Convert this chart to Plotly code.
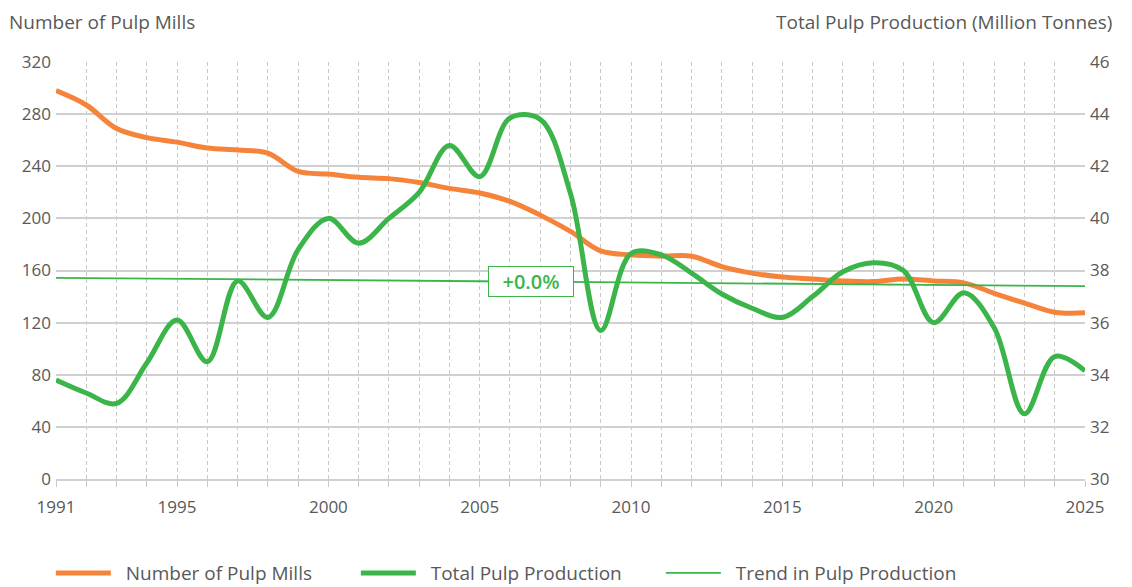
import plotly.graph_objects as go

years = list(range(1991, 2026))
pulp_mills = [298, 287, 269, 262, 258.5, 254, 252.5, 250, 236, 234, 231.5, 230.5, 227.5, 223,
              219.5, 213, 202.5, 190, 175, 172, 171, 171, 163, 158, 155, 153.5, 152, 151.5,
              153.5, 152, 150.5, 142.5, 135, 128, 127.5]
pulp_production = [33.8, 33.3, 32.9, 34.45, 36.1, 34.5, 37.6, 36.2, 38.8, 40.0, 39.05, 40.0, 41.0,
                   42.8, 41.6, 43.85, 43.8, 40.95, 35.7, 38.65, 38.6, 37.9, 37.1, 36.55, 36.2,
                   37.0, 37.95, 38.3, 38.0, 36.0, 37.15, 35.8, 32.5, 34.7, 34.15]
trend_years = [1991, 2025]
trend_values = [37.72, 37.4]
trend_label = "+0.0%"
label_years = [1991, 1995, 2000, 2005, 2010, 2015, 2020, 2025]

ORANGE = "#F5843A"
GREEN = "#3BB54A"
TEXT = "#595959"
FONT = "Open Sans"
PAD = "\u00a0\u00a0"

fig = go.Figure()
fig.add_trace(go.Scatter(x=years, y=pulp_mills, name=PAD + "Number of Pulp Mills", mode="lines",
                         line=dict(color=ORANGE, width=5, shape="spline", smoothing=1.0)))
fig.add_trace(go.Scatter(x=years, y=pulp_production, name=PAD + "Total Pulp Production", mode="lines",
                         yaxis="y2",
                         line=dict(color=GREEN, width=5, shape="spline", smoothing=1.0)))
fig.add_trace(go.Scatter(x=trend_years, y=trend_values, name=PAD + "Trend in Pulp Production",
                         mode="lines", yaxis="y2", line=dict(color=GREEN, width=1.8)))

ax = 2006.7
fig.add_annotation(x=ax, y=trend_values[0] + (trend_values[1] - trend_values[0]) * (ax - trend_years[0]) / (trend_years[1] - trend_years[0]),
                   xref="x", yref="y2", text=trend_label, showarrow=False,
                   font=dict(family=FONT, size=20, color=GREEN, weight=600),
                   width=80, height=25,
                   bgcolor="white", bordercolor=GREEN, borderwidth=1, borderpad=2)

fig.add_annotation(x=0, y=1.096, xref="paper", yref="paper", xanchor="left", yanchor="middle",
                   xshift=-48, text="Number of Pulp Mills", showarrow=False, borderpad=0,
                   font=dict(family=FONT, size=19, color=TEXT))
fig.add_annotation(x=1, y=1.096, xref="paper", yref="paper", xanchor="right", yanchor="middle",
                   xshift=28, text="Total Pulp Production (Million Tonnes)", showarrow=False, borderpad=0,
                   font=dict(family=FONT, size=19, color=TEXT))

fig.update_layout(
    width=1124, height=579,
    margin=dict(l=48, r=47, t=54, b=108, autoexpand=False),
    paper_bgcolor="white", plot_bgcolor="white",
    font=dict(family=FONT, size=17, color=TEXT),
    showlegend=True,
    legend=dict(orientation="h", x=-0.005, y=-0.18, xanchor="left", yanchor="top",
                itemwidth=55, entrywidth=235, entrywidthmode="pixels",
                font=dict(family=FONT, size=19, color=TEXT)),
    xaxis=dict(range=[1991, 2025], tickmode="array", tickvals=years,
               ticktext=[str(y) if y in label_years else "" for y in years],
               showgrid=True, gridcolor="#c8c8c8", griddash="4px,3px", gridwidth=1,
               ticks="outside", ticklen=6, tickcolor="#c8c8c8",
               showline=True, linecolor="#d0d0d0", linewidth=2,
               ticklabelstandoff=6, zeroline=False),
    yaxis=dict(range=[0, 320], dtick=40, tick0=0, showgrid=True, gridcolor="#d0d0d0",
               gridwidth=1.5, zeroline=False, showline=False, ticklabelstandoff=4),
    yaxis2=dict(range=[30, 46], dtick=2, tick0=30, overlaying="y", side="right",
                showgrid=False, zeroline=False, showline=False, ticklabelstandoff=4),
)

fig.write_html("out.html")
